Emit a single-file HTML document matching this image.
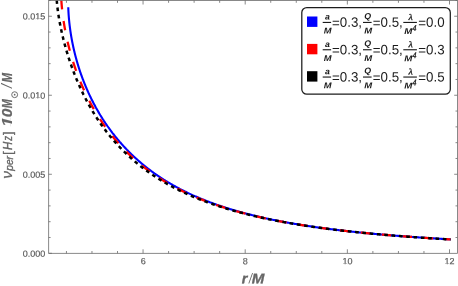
<!DOCTYPE html>
<html><head><meta charset="utf-8"><title>plot</title>
<style>
html,body{margin:0;padding:0;background:#fff;}
body{width:458px;height:286px;overflow:hidden;position:relative;font-family:"Liberation Sans",sans-serif;}
svg{position:absolute;left:0;top:0;will-change:transform;}
text{font-family:"Liberation Sans",sans-serif;}
text.lam{font-family:"Liberation Serif",serif;}
</style></head><body>
<svg width="458" height="286" viewBox="0 0 458 286">
<defs><clipPath id="cp"><rect x="48.7" y="0.5" width="408.7" height="252.8"/></clipPath></defs>
<rect x="0" y="0" width="458" height="286" fill="#fff"/>
<g clip-path="url(#cp)" fill="none" stroke-linejoin="round">
<path d="M68.27,7.31 L68.29,7.91 L68.31,8.51 L68.33,9.11 L68.36,9.71 L68.38,10.31 L68.41,10.91 L68.44,11.51 L68.48,12.11 L68.51,12.71 L68.55,13.31 L68.58,13.91 L68.62,14.51 L68.67,15.10 L68.71,15.70 L68.75,16.30 L68.80,16.90 L68.85,17.50 L68.90,18.10 L68.95,18.70 L69.00,19.29 L69.06,19.89 L69.12,20.49 L69.18,21.09 L69.24,21.68 L69.30,22.28 L69.36,22.88 L69.43,23.48 L69.49,24.07 L69.56,24.67 L69.63,25.27 L69.70,25.86 L69.78,26.46 L69.85,27.05 L69.93,27.65 L70.01,28.24 L70.09,28.84 L70.17,29.43 L70.25,30.03 L70.34,30.62 L70.42,31.22 L70.51,31.81 L70.60,32.41 L70.69,33.00 L70.78,33.59 L70.88,34.19 L70.97,34.78 L71.07,35.37 L71.17,35.96 L71.27,36.56 L71.37,37.15 L71.47,37.74 L71.58,38.33 L71.68,38.92 L71.79,39.51 L71.90,40.10 L72.01,40.69 L72.12,41.28 L72.24,41.87 L72.35,42.46 L72.47,43.05 L72.59,43.64 L72.71,44.23 L72.83,44.81 L72.95,45.40 L73.08,45.99 L73.20,46.58 L73.33,47.16 L73.46,47.75 L73.59,48.34 L73.72,48.92 L73.86,49.51 L73.99,50.09 L74.13,50.68 L74.27,51.26 L74.41,51.85 L74.55,52.43 L74.69,53.01 L74.83,53.60 L74.98,54.18 L75.13,54.76 L75.28,55.34 L75.43,55.92 L75.58,56.50 L75.73,57.08 L75.89,57.66 L76.04,58.24 L76.20,58.82 L76.36,59.40 L76.52,59.98 L76.68,60.56 L76.85,61.14 L77.01,61.71 L77.18,62.29 L77.35,62.87 L77.52,63.44 L77.69,64.02 L77.86,64.59 L78.04,65.17 L78.21,65.74 L78.39,66.32 L78.57,66.89 L78.75,67.46 L78.93,68.03 L79.11,68.61 L79.30,69.18 L79.49,69.75 L79.67,70.32 L79.86,70.89 L80.05,71.46 L80.25,72.03 L80.44,72.59 L80.64,73.16 L80.83,73.73 L81.03,74.30 L81.23,74.86 L81.43,75.43 L81.64,75.99 L81.84,76.56 L82.05,77.12 L82.25,77.69 L82.46,78.25 L82.67,78.81 L82.88,79.37 L83.10,79.93 L83.31,80.49 L83.53,81.05 L83.75,81.61 L83.97,82.17 L84.19,82.73 L84.41,83.29 L84.64,83.85 L84.86,84.40 L85.09,84.96 L85.32,85.51 L85.55,86.07 L85.78,86.62 L86.01,87.18 L86.25,87.73 L86.48,88.28 L86.72,88.83 L86.96,89.38 L87.20,89.93 L87.44,90.48 L87.69,91.03 L87.93,91.58 L88.18,92.13 L88.43,92.67 L88.67,93.22 L88.93,93.76 L89.18,94.31 L89.43,94.85 L89.69,95.40 L89.95,95.94 L90.20,96.48 L90.46,97.02 L90.73,97.56 L90.99,98.10 L91.25,98.64 L91.52,99.18 L91.79,99.72 L92.06,100.25 L92.33,100.79 L92.60,101.32 L92.87,101.86 L93.15,102.39 L93.43,102.93 L93.70,103.46 L93.98,103.99 L94.27,104.52 L94.55,105.05 L94.83,105.58 L95.12,106.11 L95.40,106.63 L95.69,107.16 L95.98,107.69 L96.28,108.21 L96.57,108.74 L96.86,109.26 L97.16,109.78 L97.46,110.30 L97.76,110.82 L98.06,111.34 L98.36,111.86 L98.66,112.38 L98.97,112.90 L99.27,113.41 L99.58,113.93 L99.89,114.44 L100.20,114.96 L100.52,115.47 L100.83,115.98 L101.15,116.49 L101.46,117.00 L101.78,117.51 L102.10,118.02 L102.42,118.53 L102.75,119.03 L103.07,119.54 L103.40,120.04 L103.72,120.55 L104.05,121.05 L104.38,121.55 L104.71,122.05 L105.05,122.55 L105.38,123.05 L105.72,123.54 L106.06,124.04 L106.40,124.54 L106.74,125.03 L107.08,125.52 L107.42,126.02 L107.77,126.51 L108.11,127.00 L108.46,127.49 L108.81,127.98 L109.16,128.46 L109.51,128.95 L109.87,129.43 L110.22,129.92 L110.58,130.40 L110.94,130.88 L111.30,131.36 L111.66,131.84 L112.02,132.32 L112.39,132.80 L112.75,133.28 L113.12,133.75 L113.49,134.23 L113.86,134.70 L114.23,135.17 L114.60,135.64 L114.97,136.11 L115.35,136.58 L115.73,137.05 L116.11,137.51 L116.49,137.98 L116.87,138.44 L117.25,138.91 L117.63,139.37 L118.02,139.83 L118.41,140.29 L118.79,140.75 L119.18,141.20 L119.57,141.66 L119.97,142.11 L120.36,142.57 L120.76,143.02 L121.15,143.47 L121.55,143.92 L121.95,144.37 L122.35,144.81 L122.75,145.26 L123.16,145.70 L123.56,146.15 L123.97,146.59 L124.38,147.03 L124.79,147.47 L125.20,147.91 L125.61,148.34 L126.02,148.78 L126.44,149.21 L126.85,149.65 L127.27,150.08 L127.69,150.51 L128.11,150.94 L128.53,151.37 L128.95,151.79 L129.38,152.22 L129.80,152.64 L130.23,153.07 L130.65,153.49 L131.08,153.91 L131.51,154.33 L131.95,154.74 L132.38,155.16 L132.81,155.57 L133.25,155.99 L133.69,156.40 L134.12,156.81 L134.56,157.22 L135.00,157.63 L135.45,158.03 L135.89,158.44 L136.33,158.84 L136.78,159.24 L137.23,159.64 L137.67,160.04 L138.12,160.44 L138.58,160.84 L139.03,161.23 L139.48,161.63 L139.93,162.02 L140.39,162.41 L140.85,162.80 L141.30,163.19 L141.76,163.58 L142.22,163.96 L142.69,164.35 L143.15,164.73 L143.61,165.11 L144.08,165.49 L144.54,165.87 L145.01,166.25 L145.48,166.62 L145.95,167.00 L146.42,167.37 L146.89,167.74 L147.36,168.11 L147.84,168.48 L148.31,168.85 L148.79,169.21 L149.27,169.58 L149.75,169.94 L150.23,170.30 L150.71,170.66 L151.19,171.02 L151.67,171.38 L152.15,171.73 L152.64,172.08 L153.13,172.44 L153.61,172.79 L154.10,173.14 L154.59,173.49 L155.08,173.83 L155.57,174.18 L156.06,174.52 L156.56,174.87 L157.05,175.21 L157.55,175.55 L158.04,175.88 L158.54,176.22 L159.04,176.56 L159.54,176.89 L160.04,177.22 L160.54,177.55 L161.04,177.88 L161.54,178.21 L162.05,178.54 L162.55,178.86 L163.06,179.19 L163.56,179.51 L164.07,179.83 L164.58,180.15 L165.09,180.47 L165.60,180.79 L166.11,181.10 L166.62,181.42 L167.13,181.73 L167.65,182.04 L168.16,182.35 L168.68,182.66 L169.19,182.96 L169.71,183.27 L170.23,183.57 L170.75,183.88 L171.27,184.18 L171.79,184.48 L172.31,184.78 L172.83,185.07 L173.35,185.37 L173.87,185.66 L174.40,185.96 L174.92,186.25 L175.45,186.54 L175.98,186.83 L176.50,187.11 L177.03,187.40 L177.56,187.68 L178.09,187.97 L178.62,188.25 L179.15,188.53 L179.68,188.81 L180.21,189.09 L180.75,189.36 L181.28,189.64 L181.81,189.91 L182.35,190.19 L182.89,190.46 L183.42,190.73 L183.96,191.00 L184.50,191.26 L185.03,191.53 L185.57,191.79 L186.11,192.06 L186.65,192.32 L187.19,192.58 L187.74,192.84 L188.28,193.10 L188.82,193.36 L189.36,193.61 L189.91,193.87 L190.45,194.12 L191.00,194.37 L191.54,194.62 L192.09,194.87 L192.64,195.12 L193.18,195.37 L193.73,195.61 L194.28,195.86 L194.83,196.10 L195.38,196.34 L195.93,196.58 L196.48,196.82 L197.03,197.06 L197.58,197.30 L198.13,197.53 L198.69,197.77 L199.24,198.00 L199.79,198.23 L200.35,198.46 L200.90,198.69 L201.46,198.92 L202.01,199.15 L202.57,199.38 L203.13,199.60 L203.68,199.82 L204.24,200.05 L204.80,200.27 L205.36,200.49 L205.92,200.71 L206.48,200.93 L207.04,201.14 L207.60,201.36 L208.16,201.58 L208.72,201.79 L209.28,202.00 L209.84,202.21 L210.40,202.43 L210.97,202.63 L211.53,202.84 L212.09,203.05 L212.66,203.26 L213.22,203.46 L213.79,203.67 L214.35,203.87 L214.92,204.07 L215.48,204.27 L216.05,204.47 L216.61,204.67 L217.18,204.87 L217.75,205.07 L218.32,205.26 L218.88,205.46 L219.45,205.65 L220.02,205.84 L220.59,206.03 L221.16,206.23 L221.73,206.42 L222.30,206.60 L222.87,206.79 L223.44,206.98 L224.01,207.16 L224.58,207.35 L225.15,207.53 L225.73,207.72 L226.30,207.90 L226.87,208.08 L227.44,208.26 L228.02,208.44 L228.59,208.62 L229.16,208.79 L229.74,208.97 L230.31,209.15 L230.89,209.32 L231.46,209.49 L232.04,209.67 L232.61,209.84 L233.19,210.01 L233.76,210.18 L234.34,210.35 L234.92,210.52 L235.49,210.68 L236.07,210.85 L236.65,211.02 L237.22,211.18 L237.80,211.35 L238.38,211.51 L238.96,211.67 L239.54,211.83 L240.11,211.99 L240.69,212.15 L241.27,212.31 L241.85,212.47 L242.43,212.63 L243.01,212.78 L243.59,212.94 L244.17,213.10 L244.75,213.25 L245.33,213.40 L245.91,213.55 L246.49,213.71 L247.07,213.86 L247.66,214.01 L248.24,214.16 L248.82,214.31 L249.40,214.45 L249.98,214.60 L250.57,214.75 L251.15,214.89 L251.73,215.04 L252.31,215.18 L252.90,215.33 L253.48,215.47 L254.06,215.61 L254.65,215.75 L255.23,215.89 L255.82,216.03 L256.40,216.17 L256.98,216.31 L257.57,216.45 L258.15,216.58 L258.74,216.72 L259.32,216.85 L259.91,216.99 L260.49,217.12 L261.08,217.26 L261.66,217.39 L262.25,217.52 L262.84,217.65 L263.42,217.78 L264.01,217.91 L264.59,218.04 L265.18,218.17 L265.77,218.30 L266.35,218.43 L266.94,218.56 L267.53,218.68 L268.12,218.81 L268.70,218.93 L269.29,219.06 L269.88,219.18 L270.47,219.30 L271.05,219.43 L271.64,219.55 L272.23,219.67 L272.82,219.79 L273.41,219.91 L273.99,220.03 L274.58,220.15 L275.17,220.27 L275.76,220.38 L276.35,220.50 L276.94,220.62 L277.53,220.73 L278.12,220.85 L278.71,220.96 L279.30,221.08 L279.89,221.19 L280.48,221.30 L281.07,221.42 L281.65,221.53 L282.25,221.64 L282.84,221.75 L283.43,221.86 L284.02,221.97 L284.61,222.08 L285.20,222.19 L285.79,222.30 L286.38,222.40 L286.97,222.51 L287.56,222.62 L288.15,222.72 L288.74,222.83 L289.33,222.94 L289.92,223.04 L290.52,223.14 L291.11,223.25 L291.70,223.35 L292.29,223.45 L292.88,223.56 L293.47,223.66 L294.07,223.76 L294.66,223.86 L295.25,223.96 L295.84,224.06 L296.43,224.16 L297.03,224.26 L297.62,224.35 L298.21,224.45 L298.80,224.55 L299.40,224.65 L299.99,224.74 L300.58,224.84 L301.17,224.93 L301.77,225.03 L302.36,225.12 L302.95,225.22 L303.55,225.31 L304.14,225.40 L304.73,225.50 L305.33,225.59 L305.92,225.68 L306.51,225.77 L307.11,225.86 L307.70,225.95 L308.29,226.04 L308.89,226.13 L309.48,226.22 L310.08,226.31 L310.67,226.40 L311.26,226.49 L311.86,226.57 L312.45,226.66 L313.05,226.75 L313.64,226.84 L314.23,226.92 L314.83,227.01 L315.42,227.09 L316.02,227.18 L316.61,227.26 L317.21,227.35 L317.80,227.43 L318.40,227.51 L318.99,227.59 L319.59,227.68 L320.18,227.76 L320.78,227.84 L321.37,227.92 L321.97,228.00 L322.56,228.08 L323.16,228.16 L323.75,228.24 L324.35,228.32 L324.94,228.40 L325.54,228.48 L326.13,228.56 L326.73,228.64 L327.32,228.72 L327.92,228.79 L328.51,228.87 L329.11,228.95 L329.70,229.02 L330.30,229.10 L330.90,229.17 L331.49,229.25 L332.09,229.32 L332.68,229.40 L333.28,229.47 L333.87,229.55 L334.47,229.62 L335.07,229.69 L335.66,229.77 L336.26,229.84 L336.85,229.91 L337.45,229.98 L338.05,230.06 L338.64,230.13 L339.24,230.20 L339.84,230.27 L340.43,230.34 L341.03,230.41 L341.62,230.48 L342.22,230.55 L342.82,230.62 L343.41,230.69 L344.01,230.75 L344.61,230.82 L345.20,230.89 L345.80,230.96 L346.40,231.03 L346.99,231.09 L347.59,231.16 L348.19,231.23 L348.78,231.29 L349.38,231.36 L349.98,231.42 L350.57,231.49 L351.17,231.55 L351.77,231.62 L352.37,231.68 L352.96,231.75 L353.56,231.81 L354.16,231.88 L354.75,231.94 L355.35,232.00 L355.95,232.06 L356.55,232.13 L357.14,232.19 L357.74,232.25 L358.34,232.31 L358.93,232.37 L359.53,232.44 L360.13,232.50 L360.73,232.56 L361.32,232.62 L361.92,232.68 L362.52,232.74 L363.12,232.80 L363.71,232.86 L364.31,232.92 L364.91,232.98 L365.51,233.03 L366.10,233.09 L366.70,233.15 L367.30,233.21 L367.90,233.27 L368.49,233.32 L369.09,233.38 L369.69,233.44 L370.29,233.50 L370.89,233.55 L371.48,233.61 L372.08,233.66 L372.68,233.72 L373.28,233.78 L373.88,233.83 L374.47,233.89 L375.07,233.94 L375.67,234.00 L376.27,234.05 L376.87,234.10 L377.46,234.16 L378.06,234.21 L378.66,234.27 L379.26,234.32 L379.86,234.37 L380.45,234.42 L381.05,234.48 L381.65,234.53 L382.25,234.58 L382.85,234.63 L383.44,234.69 L384.04,234.74 L384.64,234.79 L385.24,234.84 L385.84,234.89 L386.44,234.94 L387.03,234.99 L387.63,235.04 L388.23,235.09 L388.83,235.14 L389.43,235.19 L390.03,235.24 L390.62,235.29 L391.22,235.34 L391.82,235.39 L392.42,235.44 L393.02,235.49 L393.62,235.54 L394.22,235.58 L394.81,235.63 L395.41,235.68 L396.01,235.73 L396.61,235.77 L397.21,235.82 L397.81,235.87 L398.41,235.92 L399.00,235.96 L399.60,236.01 L400.20,236.06 L400.80,236.10 L401.40,236.15 L402.00,236.19 L402.60,236.24 L403.20,236.28 L403.79,236.33 L404.39,236.37 L404.99,236.42 L405.59,236.46 L406.19,236.51 L406.79,236.55 L407.39,236.60 L407.99,236.64 L408.58,236.69 L409.18,236.73 L409.78,236.77 L410.38,236.82 L410.98,236.86 L411.58,236.90 L412.18,236.94 L412.78,236.99 L413.38,237.03 L413.97,237.07 L414.57,237.11 L415.17,237.16 L415.77,237.20 L416.37,237.24 L416.97,237.28 L417.57,237.32 L418.17,237.36 L418.77,237.41 L419.37,237.45 L419.96,237.49 L420.56,237.53 L421.16,237.57 L421.76,237.61 L422.36,237.65 L422.96,237.69 L423.56,237.73 L424.16,237.77 L424.76,237.81 L425.36,237.85 L425.96,237.89 L426.56,237.93 L427.15,237.96 L427.75,238.00 L428.35,238.04 L428.95,238.08 L429.55,238.12 L430.15,238.16 L430.75,238.20 L431.35,238.23 L431.95,238.27 L432.55,238.31 L433.15,238.35 L433.75,238.38 L434.35,238.42 L434.95,238.46 L435.54,238.49 L436.14,238.53 L436.74,238.57 L437.34,238.61 L437.94,238.64 L438.54,238.68 L439.14,238.71 L439.74,238.75 L440.34,238.79 L440.94,238.82 L441.54,238.86 L442.14,238.89 L442.74,238.93 L443.34,238.96 L443.94,239.00 L444.54,239.03 L445.13,239.07 L445.73,239.10 L446.33,239.14 L446.93,239.17 L447.53,239.21 L448.13,239.24 L448.73,239.28 L449.33,239.31 L449.93,239.34 L450.53,239.38" stroke="#0000ff" stroke-width="2.1"/>
<path d="M60.89,-12.63 L60.89,-12.03 L60.89,-11.43 L60.90,-10.83 L60.91,-10.23 L60.92,-9.63 L60.93,-9.03 L60.94,-8.43 L60.95,-7.83 L60.97,-7.23 L60.99,-6.63 L61.01,-6.03 L61.03,-5.43 L61.05,-4.83 L61.08,-4.23 L61.11,-3.63 L61.14,-3.03 L61.17,-2.43 L61.20,-1.83 L61.23,-1.23 L61.27,-0.63 L61.31,-0.04 L61.35,0.56 L61.39,1.16 L61.43,1.76 L61.47,2.36 L61.52,2.96 L61.56,3.56 L61.61,4.16 L61.66,4.75 L61.71,5.35 L61.77,5.95 L61.82,6.55 L61.88,7.15 L61.94,7.74 L61.99,8.34 L62.05,8.94 L62.12,9.53 L62.18,10.13 L62.24,10.73 L62.31,11.32 L62.38,11.92 L62.45,12.52 L62.52,13.11 L62.59,13.71 L62.66,14.31 L62.74,14.90 L62.82,15.50 L62.89,16.09 L62.97,16.69 L63.05,17.28 L63.13,17.88 L63.22,18.47 L63.30,19.07 L63.39,19.66 L63.48,20.25 L63.56,20.85 L63.65,21.44 L63.75,22.03 L63.84,22.63 L63.93,23.22 L64.03,23.81 L64.13,24.41 L64.22,25.00 L64.32,25.59 L64.42,26.18 L64.53,26.77 L64.63,27.36 L64.73,27.96 L64.84,28.55 L64.95,29.14 L65.06,29.73 L65.17,30.32 L65.28,30.91 L65.39,31.50 L65.51,32.09 L65.62,32.68 L65.74,33.26 L65.86,33.85 L65.98,34.44 L66.10,35.03 L66.22,35.62 L66.34,36.20 L66.47,36.79 L66.59,37.38 L66.72,37.97 L66.85,38.55 L66.98,39.14 L67.11,39.72 L67.24,40.31 L67.38,40.89 L67.51,41.48 L67.65,42.06 L67.79,42.65 L67.92,43.23 L68.06,43.82 L68.21,44.40 L68.35,44.98 L68.49,45.56 L68.64,46.15 L68.79,46.73 L68.93,47.31 L69.08,47.89 L69.24,48.47 L69.39,49.05 L69.54,49.63 L69.70,50.21 L69.85,50.79 L70.01,51.37 L70.17,51.95 L70.33,52.53 L70.49,53.11 L70.65,53.69 L70.82,54.26 L70.98,54.84 L71.15,55.42 L71.32,55.99 L71.49,56.57 L71.66,57.15 L71.83,57.72 L72.00,58.30 L72.18,58.87 L72.35,59.44 L72.53,60.02 L72.71,60.59 L72.89,61.16 L73.07,61.74 L73.25,62.31 L73.44,62.88 L73.62,63.45 L73.81,64.02 L73.99,64.59 L74.18,65.16 L74.37,65.73 L74.57,66.30 L74.76,66.87 L74.95,67.44 L75.15,68.00 L75.35,68.57 L75.55,69.14 L75.74,69.70 L75.95,70.27 L76.15,70.83 L76.35,71.40 L76.56,71.96 L76.76,72.53 L76.97,73.09 L77.18,73.65 L77.39,74.21 L77.60,74.78 L77.82,75.34 L78.03,75.90 L78.25,76.46 L78.46,77.02 L78.68,77.58 L78.90,78.13 L79.12,78.69 L79.35,79.25 L79.57,79.81 L79.80,80.36 L80.02,80.92 L80.25,81.47 L80.48,82.03 L80.71,82.58 L80.95,83.14 L81.18,83.69 L81.41,84.24 L81.65,84.79 L81.89,85.35 L82.13,85.90 L82.37,86.45 L82.61,87.00 L82.85,87.54 L83.10,88.09 L83.34,88.64 L83.59,89.19 L83.84,89.73 L84.09,90.28 L84.34,90.82 L84.59,91.37 L84.85,91.91 L85.10,92.46 L85.36,93.00 L85.62,93.54 L85.88,94.08 L86.14,94.62 L86.40,95.16 L86.67,95.70 L86.93,96.24 L87.20,96.78 L87.47,97.31 L87.74,97.85 L88.01,98.39 L88.28,98.92 L88.56,99.45 L88.83,99.99 L89.11,100.52 L89.39,101.05 L89.67,101.58 L89.95,102.11 L90.23,102.64 L90.51,103.17 L90.80,103.70 L91.08,104.23 L91.37,104.76 L91.66,105.28 L91.95,105.81 L92.24,106.33 L92.54,106.86 L92.83,107.38 L93.13,107.90 L93.43,108.42 L93.73,108.94 L94.03,109.46 L94.33,109.98 L94.63,110.50 L94.94,111.02 L95.24,111.53 L95.55,112.05 L95.86,112.56 L96.17,113.08 L96.48,113.59 L96.80,114.10 L97.11,114.61 L97.43,115.12 L97.75,115.63 L98.06,116.14 L98.39,116.65 L98.71,117.15 L99.03,117.66 L99.36,118.16 L99.68,118.67 L100.01,119.17 L100.34,119.67 L100.67,120.17 L101.00,120.67 L101.33,121.17 L101.67,121.67 L102.01,122.17 L102.34,122.67 L102.68,123.16 L103.02,123.65 L103.37,124.15 L103.71,124.64 L104.05,125.13 L104.40,125.62 L104.75,126.11 L105.10,126.60 L105.45,127.09 L105.80,127.57 L106.15,128.06 L106.51,128.54 L106.86,129.03 L107.22,129.51 L107.58,129.99 L107.94,130.47 L108.30,130.95 L108.67,131.43 L109.03,131.90 L109.40,132.38 L109.76,132.85 L110.13,133.33 L110.50,133.80 L110.88,134.27 L111.25,134.74 L111.62,135.21 L112.00,135.68 L112.38,136.15 L112.76,136.61 L113.14,137.08 L113.52,137.54 L113.90,138.00 L114.29,138.46 L114.67,138.92 L115.06,139.38 L115.45,139.84 L115.84,140.29 L116.23,140.75 L116.62,141.20 L117.02,141.66 L117.41,142.11 L117.81,142.56 L118.21,143.01 L118.61,143.46 L119.01,143.90 L119.41,144.35 L119.81,144.79 L120.22,145.24 L120.62,145.68 L121.03,146.12 L121.44,146.56 L121.85,147.00 L122.26,147.43 L122.68,147.87 L123.09,148.30 L123.51,148.73 L123.92,149.17 L124.34,149.60 L124.76,150.03 L125.18,150.45 L125.61,150.88 L126.03,151.31 L126.45,151.73 L126.88,152.15 L127.31,152.57 L127.74,152.99 L128.17,153.41 L128.60,153.83 L129.03,154.24 L129.47,154.66 L129.90,155.07 L130.34,155.48 L130.78,155.90 L131.22,156.30 L131.66,156.71 L132.10,157.12 L132.54,157.52 L132.99,157.93 L133.43,158.33 L133.88,158.73 L134.33,159.13 L134.78,159.53 L135.23,159.93 L135.68,160.32 L136.13,160.72 L136.58,161.11 L137.04,161.50 L137.50,161.89 L137.95,162.28 L138.41,162.67 L138.87,163.05 L139.33,163.44 L139.80,163.82 L140.26,164.20 L140.72,164.58 L141.19,164.96 L141.66,165.34 L142.12,165.71 L142.59,166.09 L143.06,166.46 L143.54,166.83 L144.01,167.20 L144.48,167.57 L144.96,167.94 L145.43,168.30 L145.91,168.67 L146.39,169.03 L146.87,169.39 L147.35,169.75 L147.83,170.11 L148.31,170.47 L148.79,170.82 L149.28,171.18 L149.76,171.53 L150.25,171.88 L150.74,172.23 L151.23,172.58 L151.72,172.93 L152.21,173.28 L152.70,173.62 L153.19,173.96 L153.69,174.30 L154.18,174.64 L154.68,174.98 L155.17,175.32 L155.67,175.66 L156.17,175.99 L156.67,176.32 L157.17,176.66 L157.67,176.99 L158.17,177.31 L158.68,177.64 L159.18,177.97 L159.68,178.29 L160.19,178.62 L160.70,178.94 L161.21,179.26 L161.71,179.58 L162.22,179.89 L162.73,180.21 L163.25,180.52 L163.76,180.84 L164.27,181.15 L164.78,181.46 L165.30,181.77 L165.81,182.08 L166.33,182.38 L166.85,182.69 L167.37,182.99 L167.88,183.29 L168.40,183.59 L168.92,183.89 L169.45,184.19 L169.97,184.49 L170.49,184.78 L171.01,185.08 L171.54,185.37 L172.06,185.66 L172.59,185.95 L173.12,186.24 L173.64,186.52 L174.17,186.81 L174.70,187.09 L175.23,187.38 L175.76,187.66 L176.29,187.94 L176.82,188.22 L177.35,188.49 L177.89,188.77 L178.42,189.05 L178.96,189.32 L179.49,189.59 L180.03,189.86 L180.56,190.13 L181.10,190.40 L181.64,190.67 L182.18,190.93 L182.71,191.20 L183.25,191.46 L183.79,191.72 L184.34,191.98 L184.88,192.24 L185.42,192.50 L185.96,192.76 L186.50,193.01 L187.05,193.27 L187.59,193.52 L188.14,193.77 L188.68,194.02 L189.23,194.27 L189.78,194.52 L190.32,194.77 L190.87,195.01 L191.42,195.26 L191.97,195.50 L192.52,195.74 L193.07,195.98 L193.62,196.22 L194.17,196.46 L194.72,196.70 L195.27,196.93 L195.83,197.17 L196.38,197.40 L196.93,197.63 L197.49,197.87 L198.04,198.10 L198.60,198.32 L199.15,198.55 L199.71,198.78 L200.26,199.00 L200.82,199.23 L201.38,199.45 L201.93,199.67 L202.49,199.89 L203.05,200.11 L203.61,200.33 L204.17,200.55 L204.73,200.77 L205.29,200.98 L205.85,201.20 L206.41,201.41 L206.97,201.62 L207.54,201.83 L208.10,202.04 L208.66,202.25 L209.22,202.46 L209.79,202.67 L210.35,202.87 L210.92,203.08 L211.48,203.28 L212.05,203.48 L212.61,203.68 L213.18,203.88 L213.74,204.08 L214.31,204.28 L214.88,204.48 L215.44,204.68 L216.01,204.87 L216.58,205.07 L217.15,205.26 L217.72,205.45 L218.29,205.64 L218.86,205.83 L219.42,206.02 L219.99,206.21 L220.57,206.40 L221.14,206.59 L221.71,206.77 L222.28,206.96 L222.85,207.14 L223.42,207.32 L223.99,207.50 L224.57,207.69 L225.14,207.87 L225.71,208.04 L226.28,208.22 L226.86,208.40 L227.43,208.58 L228.01,208.75 L228.58,208.93 L229.16,209.10 L229.73,209.27 L230.31,209.44 L230.88,209.62 L231.46,209.79 L232.03,209.96 L232.61,210.12 L233.19,210.29 L233.76,210.46 L234.34,210.62 L234.92,210.79 L235.49,210.95 L236.07,211.12 L236.65,211.28 L237.23,211.44 L237.81,211.60 L238.38,211.76 L238.96,211.92 L239.54,212.08 L240.12,212.24 L240.70,212.39 L241.28,212.55 L241.86,212.70 L242.44,212.86 L243.02,213.01 L243.60,213.16 L244.18,213.32 L244.76,213.47 L245.34,213.62 L245.93,213.77 L246.51,213.92 L247.09,214.07 L247.67,214.21 L248.25,214.36 L248.84,214.51 L249.42,214.65 L250.00,214.80 L250.58,214.94 L251.17,215.08 L251.75,215.22 L252.33,215.37 L252.92,215.51 L253.50,215.65 L254.08,215.79 L254.67,215.93 L255.25,216.06 L255.84,216.20 L256.42,216.34 L257.01,216.47 L257.59,216.61 L258.18,216.74 L258.76,216.88 L259.35,217.01 L259.93,217.14 L260.52,217.28 L261.10,217.41 L261.69,217.54 L262.27,217.67 L262.86,217.80 L263.45,217.93 L264.03,218.06 L264.62,218.18 L265.21,218.31 L265.79,218.44 L266.38,218.56 L266.97,218.69 L267.56,218.81 L268.14,218.94 L268.73,219.06 L269.32,219.18 L269.91,219.30 L270.49,219.42 L271.08,219.54 L271.67,219.67 L272.26,219.78 L272.85,219.90 L273.44,220.02 L274.02,220.14 L274.61,220.26 L275.20,220.37 L275.79,220.49 L276.38,220.61 L276.97,220.72 L277.56,220.84 L278.15,220.95 L278.74,221.06 L279.33,221.18 L279.92,221.29 L280.51,221.40 L281.10,221.51 L281.69,221.62 L282.28,221.73 L282.87,221.84 L283.46,221.95 L284.05,222.06 L284.64,222.17 L285.23,222.27 L285.82,222.38 L286.41,222.49 L287.00,222.59 L287.59,222.70 L288.18,222.80 L288.77,222.91 L289.37,223.01 L289.96,223.12 L290.55,223.22 L291.14,223.32 L291.73,223.42 L292.32,223.52 L292.91,223.63 L293.51,223.73 L294.10,223.83 L294.69,223.93 L295.28,224.02 L295.87,224.12 L296.47,224.22 L297.06,224.32 L297.65,224.42 L298.24,224.51 L298.84,224.61 L299.43,224.71 L300.02,224.80 L300.61,224.90 L301.21,224.99 L301.80,225.08 L302.39,225.18 L302.99,225.27 L303.58,225.36 L304.17,225.46 L304.77,225.55 L305.36,225.64 L305.95,225.73 L306.55,225.82 L307.14,225.91 L307.73,226.00 L308.33,226.09 L308.92,226.18 L309.51,226.27 L310.11,226.36 L310.70,226.44 L311.30,226.53 L311.89,226.62 L312.48,226.71 L313.08,226.79 L313.67,226.88 L314.27,226.96 L314.86,227.05 L315.45,227.13 L316.05,227.22 L316.64,227.30 L317.24,227.38 L317.83,227.47 L318.43,227.55 L319.02,227.63 L319.62,227.71 L320.21,227.80 L320.81,227.88 L321.40,227.96 L322.00,228.04 L322.59,228.12 L323.19,228.20 L323.78,228.28 L324.38,228.36 L324.97,228.44 L325.57,228.51 L326.16,228.59 L326.76,228.67 L327.35,228.75 L327.95,228.82 L328.54,228.90 L329.14,228.98 L329.73,229.05 L330.33,229.13 L330.92,229.20 L331.52,229.28 L332.12,229.35 L332.71,229.43 L333.31,229.50 L333.90,229.58 L334.50,229.65 L335.10,229.72 L335.69,229.79 L336.29,229.87 L336.88,229.94 L337.48,230.01 L338.08,230.08 L338.67,230.15 L339.27,230.22 L339.86,230.29 L340.46,230.36 L341.06,230.43 L341.65,230.50 L342.25,230.57 L342.84,230.64 L343.44,230.71 L344.04,230.78 L344.63,230.85 L345.23,230.92 L345.83,230.98 L346.42,231.05 L347.02,231.12 L347.62,231.18 L348.21,231.25 L348.81,231.32 L349.41,231.38 L350.00,231.45 L350.60,231.51 L351.20,231.58 L351.79,231.64 L352.39,231.71 L352.99,231.77 L353.58,231.83 L354.18,231.90 L354.78,231.96 L355.38,232.02 L355.97,232.09 L356.57,232.15 L357.17,232.21 L357.76,232.27 L358.36,232.34 L358.96,232.40 L359.56,232.46 L360.15,232.52 L360.75,232.58 L361.35,232.64 L361.94,232.70 L362.54,232.76 L363.14,232.82 L363.74,232.88 L364.33,232.94 L364.93,233.00 L365.53,233.06 L366.13,233.11 L366.72,233.17 L367.32,233.23 L367.92,233.29 L368.52,233.35 L369.11,233.40 L369.71,233.46 L370.31,233.52 L370.91,233.57 L371.50,233.63 L372.10,233.69 L372.70,233.74 L373.30,233.80 L373.90,233.85 L374.49,233.91 L375.09,233.96 L375.69,234.02 L376.29,234.07 L376.88,234.13 L377.48,234.18 L378.08,234.23 L378.68,234.29 L379.28,234.34 L379.87,234.39 L380.47,234.45 L381.07,234.50 L381.67,234.55 L382.27,234.61 L382.86,234.66 L383.46,234.71 L384.06,234.76 L384.66,234.81 L385.26,234.86 L385.85,234.91 L386.45,234.97 L387.05,235.02 L387.65,235.07 L388.25,235.12 L388.85,235.17 L389.44,235.22 L390.04,235.27 L390.64,235.32 L391.24,235.37 L391.84,235.41 L392.44,235.46 L393.03,235.51 L393.63,235.56 L394.23,235.61 L394.83,235.66 L395.43,235.71 L396.03,235.75 L396.62,235.80 L397.22,235.85 L397.82,235.90 L398.42,235.94 L399.02,235.99 L399.62,236.04 L400.21,236.08 L400.81,236.13 L401.41,236.17 L402.01,236.22 L402.61,236.27 L403.21,236.31 L403.81,236.36 L404.40,236.40 L405.00,236.45 L405.60,236.49 L406.20,236.54 L406.80,236.58 L407.40,236.63 L408.00,236.67 L408.60,236.71 L409.19,236.76 L409.79,236.80 L410.39,236.85 L410.99,236.89 L411.59,236.93 L412.19,236.98 L412.79,237.02 L413.39,237.06 L413.98,237.10 L414.58,237.15 L415.18,237.19 L415.78,237.23 L416.38,237.27 L416.98,237.31 L417.58,237.36 L418.18,237.40 L418.78,237.44 L419.37,237.48 L419.97,237.52 L420.57,237.56 L421.17,237.60 L421.77,237.64 L422.37,237.68 L422.97,237.72 L423.57,237.76 L424.17,237.80 L424.76,237.84 L425.36,237.88 L425.96,237.92 L426.56,237.96 L427.16,238.00 L427.76,238.04 L428.36,238.08 L428.96,238.12 L429.56,238.16 L430.16,238.19 L430.76,238.23 L431.35,238.27 L431.95,238.31 L432.55,238.35 L433.15,238.38 L433.75,238.42 L434.35,238.46 L434.95,238.50 L435.55,238.53 L436.15,238.57 L436.75,238.61 L437.35,238.64 L437.95,238.68 L438.54,238.72 L439.14,238.75 L439.74,238.79 L440.34,238.83 L440.94,238.86 L441.54,238.90 L442.14,238.93 L442.74,238.97 L443.34,239.00 L443.94,239.04 L444.54,239.08 L445.14,239.11 L445.74,239.15 L446.33,239.18 L446.93,239.22 L447.53,239.25 L448.13,239.28 L448.73,239.32 L449.33,239.35 L449.93,239.39 L450.53,239.42" stroke="#ff0000" stroke-width="2.3" stroke-dasharray="9.4 11.670" stroke-dashoffset="8.410"/>
<path d="M56.30,-9.92 L56.30,-9.32 L56.31,-8.72 L56.32,-8.12 L56.33,-7.52 L56.34,-6.92 L56.36,-6.32 L56.38,-5.72 L56.40,-5.12 L56.43,-4.52 L56.46,-3.92 L56.49,-3.32 L56.52,-2.72 L56.56,-2.12 L56.60,-1.52 L56.64,-0.92 L56.68,-0.32 L56.73,0.28 L56.78,0.87 L56.83,1.47 L56.88,2.07 L56.94,2.67 L56.99,3.27 L57.05,3.86 L57.11,4.46 L57.17,5.06 L57.24,5.66 L57.30,6.25 L57.37,6.85 L57.44,7.44 L57.51,8.04 L57.58,8.64 L57.66,9.23 L57.73,9.83 L57.81,10.42 L57.89,11.02 L57.97,11.61 L58.06,12.21 L58.14,12.80 L58.23,13.40 L58.31,13.99 L58.40,14.58 L58.49,15.18 L58.59,15.77 L58.68,16.36 L58.77,16.96 L58.87,17.55 L58.97,18.14 L59.07,18.73 L59.17,19.33 L59.27,19.92 L59.38,20.51 L59.48,21.10 L59.59,21.69 L59.70,22.28 L59.80,22.87 L59.92,23.46 L60.03,24.05 L60.14,24.64 L60.26,25.23 L60.37,25.82 L60.49,26.41 L60.61,27.00 L60.73,27.58 L60.85,28.17 L60.97,28.76 L61.09,29.35 L61.22,29.93 L61.35,30.52 L61.47,31.11 L61.60,31.69 L61.73,32.28 L61.86,32.87 L62.00,33.45 L62.13,34.04 L62.27,34.62 L62.40,35.21 L62.54,35.79 L62.68,36.38 L62.82,36.96 L62.96,37.54 L63.10,38.13 L63.25,38.71 L63.39,39.29 L63.54,39.87 L63.69,40.46 L63.83,41.04 L63.98,41.62 L64.14,42.20 L64.29,42.78 L64.44,43.36 L64.60,43.94 L64.75,44.52 L64.91,45.10 L65.07,45.68 L65.23,46.26 L65.39,46.84 L65.55,47.41 L65.71,47.99 L65.88,48.57 L66.04,49.15 L66.21,49.72 L66.38,50.30 L66.55,50.88 L66.72,51.45 L66.89,52.03 L67.06,52.60 L67.23,53.18 L67.41,53.75 L67.59,54.32 L67.76,54.90 L67.94,55.47 L68.12,56.04 L68.30,56.62 L68.49,57.19 L68.67,57.76 L68.85,58.33 L69.04,58.90 L69.23,59.47 L69.41,60.04 L69.60,60.61 L69.79,61.18 L69.99,61.75 L70.18,62.32 L70.37,62.89 L70.57,63.46 L70.76,64.02 L70.96,64.59 L71.16,65.16 L71.36,65.72 L71.56,66.29 L71.77,66.85 L71.97,67.42 L72.17,67.98 L72.38,68.55 L72.59,69.11 L72.80,69.67 L73.01,70.23 L73.22,70.80 L73.43,71.36 L73.64,71.92 L73.86,72.48 L74.07,73.04 L74.29,73.60 L74.51,74.16 L74.73,74.72 L74.95,75.28 L75.17,75.83 L75.40,76.39 L75.62,76.95 L75.85,77.50 L76.07,78.06 L76.30,78.61 L76.53,79.17 L76.76,79.72 L76.99,80.28 L77.23,80.83 L77.46,81.38 L77.70,81.94 L77.94,82.49 L78.17,83.04 L78.41,83.59 L78.65,84.14 L78.90,84.69 L79.14,85.24 L79.38,85.78 L79.63,86.33 L79.88,86.88 L80.13,87.43 L80.38,87.97 L80.63,88.52 L80.88,89.06 L81.13,89.61 L81.39,90.15 L81.64,90.69 L81.90,91.23 L82.16,91.78 L82.42,92.32 L82.68,92.86 L82.94,93.40 L83.21,93.94 L83.47,94.48 L83.74,95.01 L84.01,95.55 L84.28,96.09 L84.55,96.62 L84.82,97.16 L85.09,97.69 L85.37,98.23 L85.64,98.76 L85.92,99.29 L86.20,99.82 L86.48,100.36 L86.76,100.89 L87.04,101.42 L87.33,101.94 L87.61,102.47 L87.90,103.00 L88.19,103.53 L88.48,104.05 L88.77,104.58 L89.06,105.10 L89.35,105.63 L89.65,106.15 L89.94,106.67 L90.24,107.19 L90.54,107.71 L90.84,108.23 L91.14,108.75 L91.44,109.27 L91.75,109.79 L92.05,110.31 L92.36,110.82 L92.67,111.34 L92.98,111.85 L93.29,112.37 L93.60,112.88 L93.92,113.39 L94.23,113.90 L94.55,114.41 L94.87,114.92 L95.19,115.43 L95.51,115.94 L95.83,116.44 L96.15,116.95 L96.48,117.45 L96.80,117.96 L97.13,118.46 L97.46,118.96 L97.79,119.46 L98.12,119.96 L98.46,120.46 L98.79,120.96 L99.13,121.46 L99.47,121.96 L99.80,122.45 L100.14,122.95 L100.49,123.44 L100.83,123.93 L101.17,124.42 L101.52,124.91 L101.87,125.40 L102.22,125.89 L102.57,126.38 L102.92,126.87 L103.27,127.35 L103.62,127.84 L103.98,128.32 L104.34,128.80 L104.70,129.28 L105.06,129.76 L105.42,130.24 L105.78,130.72 L106.15,131.20 L106.51,131.68 L106.88,132.15 L107.25,132.62 L107.62,133.10 L107.99,133.57 L108.36,134.04 L108.73,134.51 L109.11,134.98 L109.49,135.45 L109.86,135.91 L110.24,136.38 L110.63,136.84 L111.01,137.30 L111.39,137.77 L111.78,138.23 L112.16,138.69 L112.55,139.14 L112.94,139.60 L113.33,140.06 L113.72,140.51 L114.12,140.96 L114.51,141.42 L114.91,141.87 L115.31,142.32 L115.71,142.77 L116.11,143.21 L116.51,143.66 L116.91,144.10 L117.32,144.55 L117.72,144.99 L118.13,145.43 L118.54,145.87 L118.95,146.31 L119.36,146.75 L119.77,147.18 L120.18,147.62 L120.60,148.05 L121.02,148.48 L121.43,148.91 L121.85,149.34 L122.27,149.77 L122.70,150.20 L123.12,150.62 L123.54,151.05 L123.97,151.47 L124.40,151.89 L124.83,152.31 L125.26,152.73 L125.69,153.15 L126.12,153.57 L126.55,153.98 L126.99,154.40 L127.43,154.81 L127.86,155.22 L128.30,155.63 L128.74,156.04 L129.18,156.44 L129.63,156.85 L130.07,157.25 L130.51,157.66 L130.96,158.06 L131.41,158.46 L131.86,158.86 L132.31,159.26 L132.76,159.65 L133.21,160.05 L133.67,160.44 L134.12,160.83 L134.58,161.22 L135.03,161.61 L135.49,162.00 L135.95,162.38 L136.41,162.77 L136.88,163.15 L137.34,163.53 L137.80,163.91 L138.27,164.29 L138.74,164.67 L139.20,165.05 L139.67,165.42 L140.14,165.79 L140.61,166.17 L141.09,166.54 L141.56,166.91 L142.03,167.27 L142.51,167.64 L142.99,168.00 L143.47,168.37 L143.94,168.73 L144.42,169.09 L144.91,169.45 L145.39,169.81 L145.87,170.16 L146.36,170.52 L146.84,170.87 L147.33,171.22 L147.81,171.57 L148.30,171.92 L148.79,172.27 L149.28,172.62 L149.77,172.96 L150.27,173.30 L150.76,173.65 L151.26,173.99 L151.75,174.32 L152.25,174.66 L152.75,175.00 L153.24,175.33 L153.74,175.67 L154.24,176.00 L154.74,176.33 L155.25,176.66 L155.75,176.98 L156.25,177.31 L156.76,177.64 L157.27,177.96 L157.77,178.28 L158.28,178.60 L158.79,178.92 L159.30,179.24 L159.81,179.55 L160.32,179.87 L160.83,180.18 L161.34,180.49 L161.86,180.80 L162.37,181.11 L162.89,181.42 L163.40,181.73 L163.92,182.03 L164.44,182.34 L164.96,182.64 L165.48,182.94 L166.00,183.24 L166.52,183.54 L167.04,183.83 L167.56,184.13 L168.09,184.42 L168.61,184.71 L169.14,185.01 L169.66,185.30 L170.19,185.58 L170.72,185.87 L171.24,186.16 L171.77,186.44 L172.30,186.72 L172.83,187.01 L173.36,187.29 L173.89,187.57 L174.43,187.84 L174.96,188.12 L175.49,188.40 L176.03,188.67 L176.56,188.94 L177.10,189.21 L177.63,189.48 L178.17,189.75 L178.71,190.02 L179.25,190.29 L179.79,190.55 L180.33,190.81 L180.87,191.08 L181.41,191.34 L181.95,191.60 L182.49,191.85 L183.03,192.11 L183.58,192.37 L184.12,192.62 L184.66,192.88 L185.21,193.13 L185.75,193.38 L186.30,193.63 L186.85,193.88 L187.39,194.12 L187.94,194.37 L188.49,194.62 L189.04,194.86 L189.59,195.10 L190.14,195.34 L190.69,195.58 L191.24,195.82 L191.79,196.06 L192.34,196.30 L192.89,196.53 L193.45,196.76 L194.00,197.00 L194.55,197.23 L195.11,197.46 L195.66,197.69 L196.22,197.92 L196.77,198.15 L197.33,198.37 L197.89,198.60 L198.44,198.82 L199.00,199.04 L199.56,199.26 L200.12,199.48 L200.68,199.70 L201.24,199.92 L201.80,200.14 L202.36,200.36 L202.92,200.57 L203.48,200.78 L204.04,201.00 L204.60,201.21 L205.16,201.42 L205.72,201.63 L206.29,201.84 L206.85,202.04 L207.41,202.25 L207.98,202.46 L208.54,202.66 L209.11,202.86 L209.67,203.07 L210.24,203.27 L210.81,203.47 L211.37,203.67 L211.94,203.87 L212.51,204.06 L213.07,204.26 L213.64,204.45 L214.21,204.65 L214.78,204.84 L215.35,205.03 L215.91,205.23 L216.48,205.42 L217.05,205.61 L217.62,205.79 L218.19,205.98 L218.76,206.17 L219.34,206.35 L219.91,206.54 L220.48,206.72 L221.05,206.90 L221.62,207.09 L222.19,207.27 L222.77,207.45 L223.34,207.63 L223.91,207.81 L224.49,207.98 L225.06,208.16 L225.64,208.33 L226.21,208.51 L226.78,208.68 L227.36,208.86 L227.93,209.03 L228.51,209.20 L229.09,209.37 L229.66,209.54 L230.24,209.71 L230.81,209.88 L231.39,210.04 L231.97,210.21 L232.54,210.37 L233.12,210.54 L233.70,210.70 L234.28,210.86 L234.86,211.03 L235.43,211.19 L236.01,211.35 L236.59,211.51 L237.17,211.67 L237.75,211.82 L238.33,211.98 L238.91,212.14 L239.49,212.29 L240.07,212.45 L240.65,212.60 L241.23,212.76 L241.81,212.91 L242.39,213.06 L242.97,213.21 L243.55,213.36 L244.13,213.51 L244.72,213.66 L245.30,213.81 L245.88,213.95 L246.46,214.10 L247.04,214.25 L247.63,214.39 L248.21,214.54 L248.79,214.68 L249.38,214.82 L249.96,214.97 L250.54,215.11 L251.13,215.25 L251.71,215.39 L252.29,215.53 L252.88,215.67 L253.46,215.80 L254.05,215.94 L254.63,216.08 L255.22,216.21 L255.80,216.35 L256.39,216.48 L256.97,216.62 L257.56,216.75 L258.14,216.88 L258.73,217.02 L259.31,217.15 L259.90,217.28 L260.49,217.41 L261.07,217.54 L261.66,217.67 L262.24,217.80 L262.83,217.92 L263.42,218.05 L264.01,218.18 L264.59,218.30 L265.18,218.43 L265.77,218.55 L266.35,218.68 L266.94,218.80 L267.53,218.92 L268.12,219.05 L268.70,219.17 L269.29,219.29 L269.88,219.41 L270.47,219.53 L271.06,219.65 L271.65,219.77 L272.23,219.88 L272.82,220.00 L273.41,220.12 L274.00,220.24 L274.59,220.35 L275.18,220.47 L275.77,220.58 L276.36,220.70 L276.95,220.81 L277.54,220.92 L278.13,221.04 L278.72,221.15 L279.31,221.26 L279.90,221.37 L280.49,221.48 L281.08,221.59 L281.67,221.70 L282.26,221.81 L282.85,221.92 L283.44,222.03 L284.03,222.13 L284.62,222.24 L285.21,222.35 L285.80,222.45 L286.39,222.56 L286.98,222.66 L287.58,222.77 L288.17,222.87 L288.76,222.97 L289.35,223.08 L289.94,223.18 L290.53,223.28 L291.12,223.38 L291.72,223.48 L292.31,223.59 L292.90,223.69 L293.49,223.79 L294.08,223.88 L294.68,223.98 L295.27,224.08 L295.86,224.18 L296.45,224.28 L297.05,224.37 L297.64,224.47 L298.23,224.57 L298.82,224.66 L299.42,224.76 L300.01,224.85 L300.60,224.95 L301.20,225.04 L301.79,225.13 L302.38,225.23 L302.97,225.32 L303.57,225.41 L304.16,225.50 L304.75,225.59 L305.35,225.68 L305.94,225.78 L306.54,225.87 L307.13,225.96 L307.72,226.04 L308.32,226.13 L308.91,226.22 L309.50,226.31 L310.10,226.40 L310.69,226.48 L311.29,226.57 L311.88,226.66 L312.47,226.74 L313.07,226.83 L313.66,226.92 L314.26,227.00 L314.85,227.08 L315.45,227.17 L316.04,227.25 L316.63,227.34 L317.23,227.42 L317.82,227.50 L318.42,227.58 L319.01,227.67 L319.61,227.75 L320.20,227.83 L320.80,227.91 L321.39,227.99 L321.99,228.07 L322.58,228.15 L323.18,228.23 L323.77,228.31 L324.37,228.39 L324.96,228.47 L325.56,228.54 L326.15,228.62 L326.75,228.70 L327.34,228.78 L327.94,228.85 L328.54,228.93 L329.13,229.01 L329.73,229.08 L330.32,229.16 L330.92,229.23 L331.51,229.31 L332.11,229.38 L332.71,229.46 L333.30,229.53 L333.90,229.60 L334.49,229.68 L335.09,229.75 L335.68,229.82 L336.28,229.89 L336.88,229.97 L337.47,230.04 L338.07,230.11 L338.67,230.18 L339.26,230.25 L339.86,230.32 L340.45,230.39 L341.05,230.46 L341.65,230.53 L342.24,230.60 L342.84,230.67 L343.44,230.74 L344.03,230.80 L344.63,230.87 L345.23,230.94 L345.82,231.01 L346.42,231.07 L347.01,231.14 L347.61,231.21 L348.21,231.27 L348.80,231.34 L349.40,231.41 L350.00,231.47 L350.60,231.54 L351.19,231.60 L351.79,231.67 L352.39,231.73 L352.98,231.79 L353.58,231.86 L354.18,231.92 L354.77,231.99 L355.37,232.05 L355.97,232.11 L356.57,232.17 L357.16,232.24 L357.76,232.30 L358.36,232.36 L358.95,232.42 L359.55,232.48 L360.15,232.54 L360.75,232.60 L361.34,232.66 L361.94,232.73 L362.54,232.79 L363.13,232.84 L363.73,232.90 L364.33,232.96 L364.93,233.02 L365.52,233.08 L366.12,233.14 L366.72,233.20 L367.32,233.26 L367.91,233.31 L368.51,233.37 L369.11,233.43 L369.71,233.49 L370.31,233.54 L370.90,233.60 L371.50,233.66 L372.10,233.71 L372.70,233.77 L373.29,233.82 L373.89,233.88 L374.49,233.93 L375.09,233.99 L375.69,234.04 L376.28,234.10 L376.88,234.15 L377.48,234.21 L378.08,234.26 L378.67,234.32 L379.27,234.37 L379.87,234.42 L380.47,234.48 L381.07,234.53 L381.66,234.58 L382.26,234.63 L382.86,234.69 L383.46,234.74 L384.06,234.79 L384.66,234.84 L385.25,234.89 L385.85,234.94 L386.45,235.00 L387.05,235.05 L387.65,235.10 L388.24,235.15 L388.84,235.20 L389.44,235.25 L390.04,235.30 L390.64,235.35 L391.24,235.40 L391.83,235.45 L392.43,235.50 L393.03,235.54 L393.63,235.59 L394.23,235.64 L394.83,235.69 L395.42,235.74 L396.02,235.79 L396.62,235.83 L397.22,235.88 L397.82,235.93 L398.42,235.98 L399.02,236.02 L399.61,236.07 L400.21,236.12 L400.81,236.16 L401.41,236.21 L402.01,236.26 L402.61,236.30 L403.21,236.35 L403.80,236.39 L404.40,236.44 L405.00,236.48 L405.60,236.53 L406.20,236.57 L406.80,236.62 L407.40,236.66 L407.99,236.71 L408.59,236.75 L409.19,236.80 L409.79,236.84 L410.39,236.88 L410.99,236.93 L411.59,236.97 L412.19,237.01 L412.78,237.06 L413.38,237.10 L413.98,237.14 L414.58,237.19 L415.18,237.23 L415.78,237.27 L416.38,237.31 L416.98,237.35 L417.58,237.40 L418.17,237.44 L418.77,237.48 L419.37,237.52 L419.97,237.56 L420.57,237.60 L421.17,237.64 L421.77,237.69 L422.37,237.73 L422.97,237.77 L423.57,237.81 L424.16,237.85 L424.76,237.89 L425.36,237.93 L425.96,237.97 L426.56,238.01 L427.16,238.05 L427.76,238.08 L428.36,238.12 L428.96,238.16 L429.56,238.20 L430.16,238.24 L430.75,238.28 L431.35,238.32 L431.95,238.36 L432.55,238.39 L433.15,238.43 L433.75,238.47 L434.35,238.51 L434.95,238.55 L435.55,238.58 L436.15,238.62 L436.75,238.66 L437.35,238.69 L437.94,238.73 L438.54,238.77 L439.14,238.80 L439.74,238.84 L440.34,238.88 L440.94,238.91 L441.54,238.95 L442.14,238.99 L442.74,239.02 L443.34,239.06 L443.94,239.09 L444.54,239.13 L445.14,239.16 L445.74,239.20 L446.33,239.23 L446.93,239.27 L447.53,239.30 L448.13,239.34 L448.73,239.37 L449.33,239.41 L449.93,239.44 L450.53,239.48" stroke="#000000" stroke-width="2.5" stroke-dasharray="3.67 3.667" stroke-dashoffset="4.546"/>
</g>
<g stroke="#666666" stroke-width="0.77" fill="none">
<rect x="48.7" y="0.5" width="408.7" height="252.8"/>
<line x1="66.44" y1="253.30" x2="66.44" y2="251.00"/>
<line x1="66.44" y1="0.50" x2="66.44" y2="2.80"/>
<line x1="91.98" y1="253.30" x2="91.98" y2="251.00"/>
<line x1="91.98" y1="0.50" x2="91.98" y2="2.80"/>
<line x1="117.51" y1="253.30" x2="117.51" y2="251.00"/>
<line x1="117.51" y1="0.50" x2="117.51" y2="2.80"/>
<line x1="143.05" y1="253.30" x2="143.05" y2="249.30"/>
<line x1="143.05" y1="0.50" x2="143.05" y2="4.50"/>
<line x1="168.59" y1="253.30" x2="168.59" y2="251.00"/>
<line x1="168.59" y1="0.50" x2="168.59" y2="2.80"/>
<line x1="194.12" y1="253.30" x2="194.12" y2="251.00"/>
<line x1="194.12" y1="0.50" x2="194.12" y2="2.80"/>
<line x1="219.66" y1="253.30" x2="219.66" y2="251.00"/>
<line x1="219.66" y1="0.50" x2="219.66" y2="2.80"/>
<line x1="245.20" y1="253.30" x2="245.20" y2="249.30"/>
<line x1="245.20" y1="0.50" x2="245.20" y2="4.50"/>
<line x1="270.74" y1="253.30" x2="270.74" y2="251.00"/>
<line x1="270.74" y1="0.50" x2="270.74" y2="2.80"/>
<line x1="296.28" y1="253.30" x2="296.28" y2="251.00"/>
<line x1="296.28" y1="0.50" x2="296.28" y2="2.80"/>
<line x1="321.81" y1="253.30" x2="321.81" y2="251.00"/>
<line x1="321.81" y1="0.50" x2="321.81" y2="2.80"/>
<line x1="347.35" y1="253.30" x2="347.35" y2="249.30"/>
<line x1="347.35" y1="0.50" x2="347.35" y2="4.50"/>
<line x1="372.89" y1="253.30" x2="372.89" y2="251.00"/>
<line x1="372.89" y1="0.50" x2="372.89" y2="2.80"/>
<line x1="398.43" y1="253.30" x2="398.43" y2="251.00"/>
<line x1="398.43" y1="0.50" x2="398.43" y2="2.80"/>
<line x1="423.96" y1="253.30" x2="423.96" y2="251.00"/>
<line x1="423.96" y1="0.50" x2="423.96" y2="2.80"/>
<line x1="449.50" y1="253.30" x2="449.50" y2="249.30"/>
<line x1="449.50" y1="0.50" x2="449.50" y2="4.50"/>
<line x1="48.70" y1="237.50" x2="50.60" y2="237.50"/>
<line x1="457.40" y1="237.50" x2="455.50" y2="237.50"/>
<line x1="48.70" y1="221.69" x2="50.60" y2="221.69"/>
<line x1="457.40" y1="221.69" x2="455.50" y2="221.69"/>
<line x1="48.70" y1="205.89" x2="50.60" y2="205.89"/>
<line x1="457.40" y1="205.89" x2="455.50" y2="205.89"/>
<line x1="48.70" y1="190.08" x2="50.60" y2="190.08"/>
<line x1="457.40" y1="190.08" x2="455.50" y2="190.08"/>
<line x1="48.70" y1="174.28" x2="51.90" y2="174.28"/>
<line x1="457.40" y1="174.28" x2="454.20" y2="174.28"/>
<line x1="48.70" y1="158.48" x2="50.60" y2="158.48"/>
<line x1="457.40" y1="158.48" x2="455.50" y2="158.48"/>
<line x1="48.70" y1="142.67" x2="50.60" y2="142.67"/>
<line x1="457.40" y1="142.67" x2="455.50" y2="142.67"/>
<line x1="48.70" y1="126.87" x2="50.60" y2="126.87"/>
<line x1="457.40" y1="126.87" x2="455.50" y2="126.87"/>
<line x1="48.70" y1="111.06" x2="50.60" y2="111.06"/>
<line x1="457.40" y1="111.06" x2="455.50" y2="111.06"/>
<line x1="48.70" y1="95.26" x2="51.90" y2="95.26"/>
<line x1="457.40" y1="95.26" x2="454.20" y2="95.26"/>
<line x1="48.70" y1="79.46" x2="50.60" y2="79.46"/>
<line x1="457.40" y1="79.46" x2="455.50" y2="79.46"/>
<line x1="48.70" y1="63.65" x2="50.60" y2="63.65"/>
<line x1="457.40" y1="63.65" x2="455.50" y2="63.65"/>
<line x1="48.70" y1="47.85" x2="50.60" y2="47.85"/>
<line x1="457.40" y1="47.85" x2="455.50" y2="47.85"/>
<line x1="48.70" y1="32.04" x2="50.60" y2="32.04"/>
<line x1="457.40" y1="32.04" x2="455.50" y2="32.04"/>
<line x1="48.70" y1="16.24" x2="51.90" y2="16.24"/>
<line x1="457.40" y1="16.24" x2="454.20" y2="16.24"/>
<line x1="48.70" y1="0.44" x2="50.60" y2="0.44"/>
<line x1="457.40" y1="0.44" x2="455.50" y2="0.44"/>
<line x1="48.70" y1="253.30" x2="51.90" y2="253.30"/>
</g>
<defs><clipPath id="ck0_015"><path clip-rule="evenodd" d="M-5,-20 H60 V6 H-5 Z M12.96,-0.75 H14.77 V1 H12.96 Z M15.57,-0.75 H17.28 V1 H15.57 Z"/></clipPath><clipPath id="ck0_010"><path clip-rule="evenodd" d="M-5,-20 H60 V6 H-5 Z M12.96,-0.75 H14.77 V1 H12.96 Z M15.57,-0.75 H17.28 V1 H15.57 Z"/></clipPath><clipPath id="ck10"><path clip-rule="evenodd" d="M-5,-20 H60 V6 H-5 Z M0.45,-0.75 H2.26 V1 H0.45 Z M3.06,-0.75 H4.77 V1 H3.06 Z"/></clipPath><clipPath id="ck12"><path clip-rule="evenodd" d="M-5,-20 H60 V6 H-5 Z M0.45,-0.75 H2.26 V1 H0.45 Z M3.06,-0.75 H4.77 V1 H3.06 Z"/></clipPath></defs>
<g fill="#5a5a5a" stroke="#5a5a5a" stroke-width="0.18">
<text transform="translate(22.68,19.59) rotate(0.05)" font-size="9px" clip-path="url(#ck0_015)">0.015</text>
<text transform="translate(22.68,98.61) rotate(0.05)" font-size="9px" clip-path="url(#ck0_010)">0.010</text>
<text transform="translate(22.68,177.63) rotate(0.05)" font-size="9px">0.005</text>
<text transform="translate(22.68,256.65) rotate(0.05)" font-size="9px">0.000</text>
<text transform="translate(140.65,264.25) rotate(0.05)" font-size="9px">6</text>
<text transform="translate(242.80,264.25) rotate(0.05)" font-size="9px">8</text>
<text transform="translate(342.44,264.25) rotate(0.05)" font-size="9px" clip-path="url(#ck10)">10</text>
<text transform="translate(444.59,264.25) rotate(0.05)" font-size="9px" clip-path="url(#ck12)">12</text>
</g>
<g fill="#666666"><text transform="translate(241.65,283.30) rotate(0.05) scale(1.044,1)" font-size="14px" font-style="italic" font-weight="bold" stroke="#666666" stroke-width="0.3">r</text><text transform="translate(248.92,283.30) rotate(0.05) scale(0.782,1)" font-size="14px" font-style="italic">/</text><text transform="translate(251.73,283.30) rotate(0.05) scale(1.080,1)" font-size="14px" font-style="italic" font-weight="bold" stroke="#666666" stroke-width="0.3">M</text></g>
<g transform="translate(11.8,178.5) rotate(-90)" fill="#666666">
<text transform="translate(-0.26,0.00) rotate(0) scale(1.123,1)" font-size="14px" font-style="italic" stroke="#666666" stroke-width="0.2">ν</text>
<text x="7.75" y="1.6" font-size="10.8px" font-style="italic" textLength="14.7" lengthAdjust="spacingAndGlyphs" stroke="#666666" stroke-width="0.35">per</text>
<text transform="translate(23.85,0.00) rotate(0) scale(1.000,1)" font-size="12px" stroke="#666666" stroke-width="0.35">[</text>
<text transform="translate(28.55,0.00) rotate(0) scale(0.951,1)" font-size="12px" font-style="italic" stroke="#666666" stroke-width="0.35">H</text>
<text transform="translate(37.86,0.00) rotate(0) scale(0.796,1)" font-size="12px" font-style="italic" stroke="#666666" stroke-width="0.35">z</text>
<text transform="translate(43.56,0.00) rotate(0) scale(1.000,1)" font-size="12px" stroke="#666666" stroke-width="0.35">]</text>
<clipPath id="c1"><polygon points="-2,-20 16,-20 16,-1.65 5.03,-1.65 4.71,0.3 2.71,0.3 3.03,-1.65 -2,-1.65"/></clipPath>
<text transform="translate(51.44,0) scale(1.25,1)" font-size="14.6px" font-style="italic" font-weight="bold" clip-path="url(#c1)" stroke="#666666" stroke-width="0.1">1</text>
<text transform="translate(61.36,0.00) rotate(0) scale(1.058,1)" font-size="14.6px" font-style="italic" font-weight="bold" stroke="#666666" stroke-width="0.2">0</text>
<text transform="translate(70.31,0.00) rotate(0) scale(0.740,1)" font-size="14.6px" font-style="italic" font-weight="bold" stroke="#666666" stroke-width="0.2">M</text>
<circle cx="83.8" cy="2.85" r="2.95" fill="none" stroke="#666666" stroke-width="0.95"/><circle cx="83.8" cy="2.85" r="0.85"/>
<text transform="translate(90.51,0.00) rotate(0) scale(1.019,1)" font-size="14px" font-style="italic">/</text>
<text transform="translate(96.05,0.00) rotate(0) scale(0.781,1)" font-size="14.6px" font-style="italic" font-weight="bold" stroke="#666666" stroke-width="0.2">M</text>
</g>
<!-- legend -->
<rect x="301.8" y="7.5" width="148.5" height="86.65" rx="5" ry="5" fill="#fff" stroke="#1c1c1c" stroke-width="1.25"/>
<rect x="307" y="16.5" width="10.4" height="10.4" fill="#0000ff"/>
<rect x="307" y="43.9" width="10.4" height="10.4" fill="#ff0000"/>
<rect x="307" y="71.2" width="10.4" height="10.4" fill="#000000"/>
<g fill="#1c1c1c">
<line x1="322.7" y1="22.45" x2="331.1" y2="22.45" stroke="#1c1c1c" stroke-width="1.15"/>
<text transform="translate(325.06,19.60) rotate(0.05) scale(1.037,1)" font-size="8.5px" font-style="italic" font-weight="bold">a</text>
<text transform="translate(323.64,33.60) rotate(0.05) scale(1.102,1)" font-size="8.5px" font-style="italic" font-weight="bold">M</text>
<text transform="translate(332.05,27.55) rotate(0.05) scale(0.978,1)" font-size="13.6px">=</text>
<text transform="translate(339.82,26.85) rotate(0.05) scale(0.978,1)" font-size="13.6px">0.3,</text>
<line x1="363.0" y1="22.45" x2="371.6" y2="22.45" stroke="#1c1c1c" stroke-width="1.15"/>
<text transform="translate(364.37,18.90) rotate(0.05) scale(1.040,1)" font-size="8.5px" font-style="italic" font-weight="bold">Q</text>
<text transform="translate(364.13,33.60) rotate(0.05) scale(1.116,1)" font-size="8.5px" font-style="italic" font-weight="bold">M</text>
<text transform="translate(372.85,27.55) rotate(0.05) scale(0.978,1)" font-size="13.6px">=</text>
<text transform="translate(380.62,26.85) rotate(0.05) scale(0.978,1)" font-size="13.6px">0.5,</text>
<line x1="403.3" y1="22.45" x2="416.9" y2="22.45" stroke="#1c1c1c" stroke-width="1.15"/>
<text transform="translate(410.55,19.90) rotate(0.05) scale(1.15,1)" class="lam" font-size="8.6px" font-style="italic" text-anchor="middle" stroke="#1c1c1c" stroke-width="0.25">&#955;</text>
<text transform="translate(404.23,33.90) rotate(0.05) scale(1.144,1)" font-size="8.5px" font-style="italic" font-weight="bold">M</text>
<text transform="translate(412.46,30.70) rotate(0.05) scale(0.879,1)" font-size="8px" font-style="italic" stroke="#1c1c1c" stroke-width="0.3">4</text>
<text transform="translate(418.30,27.55) rotate(0.05) scale(0.978,1)" font-size="13.6px">=</text>
<text transform="translate(426.07,26.85) rotate(0.05) scale(0.978,1)" font-size="13.6px">0.0</text>
</g>
<g fill="#1c1c1c">
<line x1="322.7" y1="49.75" x2="331.1" y2="49.75" stroke="#1c1c1c" stroke-width="1.15"/>
<text transform="translate(325.06,46.90) rotate(0.05) scale(1.037,1)" font-size="8.5px" font-style="italic" font-weight="bold">a</text>
<text transform="translate(323.64,60.90) rotate(0.05) scale(1.102,1)" font-size="8.5px" font-style="italic" font-weight="bold">M</text>
<text transform="translate(332.05,54.85) rotate(0.05) scale(0.978,1)" font-size="13.6px">=</text>
<text transform="translate(339.82,54.15) rotate(0.05) scale(0.978,1)" font-size="13.6px">0.3,</text>
<line x1="363.0" y1="49.75" x2="371.6" y2="49.75" stroke="#1c1c1c" stroke-width="1.15"/>
<text transform="translate(364.37,46.20) rotate(0.05) scale(1.040,1)" font-size="8.5px" font-style="italic" font-weight="bold">Q</text>
<text transform="translate(364.13,60.90) rotate(0.05) scale(1.116,1)" font-size="8.5px" font-style="italic" font-weight="bold">M</text>
<text transform="translate(372.85,54.85) rotate(0.05) scale(0.978,1)" font-size="13.6px">=</text>
<text transform="translate(380.62,54.15) rotate(0.05) scale(0.978,1)" font-size="13.6px">0.5,</text>
<line x1="403.3" y1="49.75" x2="416.9" y2="49.75" stroke="#1c1c1c" stroke-width="1.15"/>
<text transform="translate(410.55,47.20) rotate(0.05) scale(1.15,1)" class="lam" font-size="8.6px" font-style="italic" text-anchor="middle" stroke="#1c1c1c" stroke-width="0.25">&#955;</text>
<text transform="translate(404.23,61.20) rotate(0.05) scale(1.144,1)" font-size="8.5px" font-style="italic" font-weight="bold">M</text>
<text transform="translate(412.46,58.00) rotate(0.05) scale(0.879,1)" font-size="8px" font-style="italic" stroke="#1c1c1c" stroke-width="0.3">4</text>
<text transform="translate(418.30,54.85) rotate(0.05) scale(0.978,1)" font-size="13.6px">=</text>
<text transform="translate(426.07,54.15) rotate(0.05) scale(0.978,1)" font-size="13.6px">0.3</text>
</g>
<g fill="#1c1c1c">
<line x1="322.7" y1="77.05" x2="331.1" y2="77.05" stroke="#1c1c1c" stroke-width="1.15"/>
<text transform="translate(325.06,74.20) rotate(0.05) scale(1.037,1)" font-size="8.5px" font-style="italic" font-weight="bold">a</text>
<text transform="translate(323.64,88.20) rotate(0.05) scale(1.102,1)" font-size="8.5px" font-style="italic" font-weight="bold">M</text>
<text transform="translate(332.05,82.15) rotate(0.05) scale(0.978,1)" font-size="13.6px">=</text>
<text transform="translate(339.82,81.45) rotate(0.05) scale(0.978,1)" font-size="13.6px">0.3,</text>
<line x1="363.0" y1="77.05" x2="371.6" y2="77.05" stroke="#1c1c1c" stroke-width="1.15"/>
<text transform="translate(364.37,73.50) rotate(0.05) scale(1.040,1)" font-size="8.5px" font-style="italic" font-weight="bold">Q</text>
<text transform="translate(364.13,88.20) rotate(0.05) scale(1.116,1)" font-size="8.5px" font-style="italic" font-weight="bold">M</text>
<text transform="translate(372.85,82.15) rotate(0.05) scale(0.978,1)" font-size="13.6px">=</text>
<text transform="translate(380.62,81.45) rotate(0.05) scale(0.978,1)" font-size="13.6px">0.5,</text>
<line x1="403.3" y1="77.05" x2="416.9" y2="77.05" stroke="#1c1c1c" stroke-width="1.15"/>
<text transform="translate(410.55,74.50) rotate(0.05) scale(1.15,1)" class="lam" font-size="8.6px" font-style="italic" text-anchor="middle" stroke="#1c1c1c" stroke-width="0.25">&#955;</text>
<text transform="translate(404.23,88.50) rotate(0.05) scale(1.144,1)" font-size="8.5px" font-style="italic" font-weight="bold">M</text>
<text transform="translate(412.46,85.30) rotate(0.05) scale(0.879,1)" font-size="8px" font-style="italic" stroke="#1c1c1c" stroke-width="0.3">4</text>
<text transform="translate(418.30,82.15) rotate(0.05) scale(0.978,1)" font-size="13.6px">=</text>
<text transform="translate(426.07,81.45) rotate(0.05) scale(0.978,1)" font-size="13.6px">0.5</text>
</g>
</svg>
</body></html>
